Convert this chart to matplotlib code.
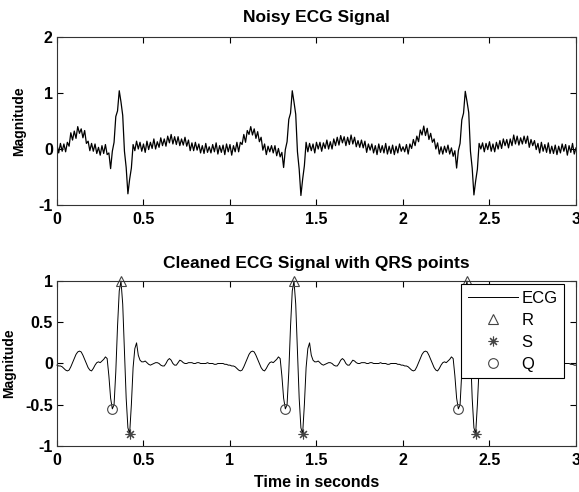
import numpy as np
import matplotlib.pyplot as plt

plt.rcParams['font.family'] = ['Liberation Sans', 'DejaVu Sans']

# time axis, 0.01 s steps from 0 to 3 s
time_s = np.round(np.arange(0, 301) * 0.01, 2)

# noisy ECG (one line per 0.1 s)
noisy_ecg = [
    # beat 1
    0.08, -0.07, 0.10, -0.04, 0.09, -0.05, 0.12, 0.05, 0.29, 0.16,
    0.32, 0.19, 0.40, 0.28, 0.36, 0.20, 0.33, 0.10, 0.14, -0.03,
    0.10, -0.04, 0.09, -0.08, 0.03, -0.11, 0.06, -0.08, 0.08, -0.10,
    -0.07, -0.35, -0.04, 0.12, 0.58, 0.68, 1.04, 0.84, 0.60, -0.04,
    -0.33, -0.80, -0.54, -0.34, 0.08, -0.03, 0.14, 0.00, 0.12, -0.04,
    0.09, -0.06, 0.14, -0.01, 0.12, 0.01, 0.18, 0.00, 0.13, 0.03,
    0.20, 0.06, 0.18, 0.05, 0.23, 0.11, 0.26, 0.09, 0.22, 0.08,
    0.22, 0.06, 0.18, 0.07, 0.21, 0.05, 0.16, -0.03, 0.11, -0.03,
    0.12, -0.02, 0.09, -0.07, 0.06, -0.08, 0.10, -0.06, 0.04, -0.07,
    0.08, -0.05, 0.11, -0.09, 0.06, -0.06, 0.07, -0.10, 0.09, -0.05,
    # beat 2
    0.08, -0.11, 0.06, -0.05, 0.12, -0.05, 0.12, 0.08, 0.26, 0.12,
    0.33, 0.26, 0.40, 0.25, 0.36, 0.19, 0.31, 0.13, 0.21, -0.02,
    0.09, -0.10, 0.05, -0.05, 0.06, -0.07, 0.06, -0.12, 0.01, -0.14,
    -0.06, -0.33, -0.01, 0.13, 0.53, 0.64, 1.04, 0.84, 0.62, -0.05,
    -0.36, -0.83, -0.54, -0.30, 0.12, -0.05, 0.10, -0.03, 0.09, -0.07,
    0.12, 0.00, 0.12, -0.04, 0.11, 0.01, 0.16, 0.00, 0.13, 0.00,
    0.18, 0.06, 0.21, 0.07, 0.24, 0.11, 0.22, 0.06, 0.21, 0.08,
    0.25, 0.09, 0.21, 0.04, 0.15, 0.03, 0.16, 0.02, 0.14, -0.06,
    0.09, -0.02, 0.09, -0.07, 0.06, -0.10, 0.09, -0.06, 0.06, -0.07,
    0.10, -0.09, 0.05, -0.08, 0.07, -0.10, 0.05, -0.07, 0.09, -0.04,
    # beat 3
    0.04, -0.05, 0.08, -0.09, 0.09, 0.01, 0.17, 0.06, 0.23, 0.13,
    0.34, 0.25, 0.41, 0.24, 0.37, 0.17, 0.28, 0.12, 0.18, 0.00,
    0.11, -0.09, 0.04, -0.09, 0.05, -0.06, 0.07, -0.09, 0.02, -0.13,
    -0.03, -0.34, -0.03, 0.10, 0.52, 0.64, 1.03, 0.85, 0.65, -0.04,
    -0.34, -0.82, -0.57, -0.36, 0.10, 0.00, 0.11, -0.05, 0.10, -0.01,
    0.13, -0.04, 0.09, -0.05, 0.12, 0.00, 0.15, 0.01, 0.18, 0.06,
    0.17, 0.02, 0.18, 0.06, 0.25, 0.09, 0.23, 0.07, 0.20, 0.09,
    0.23, 0.10, 0.23, 0.03, 0.17, 0.06, 0.15, -0.01, 0.10, -0.07,
    0.12, -0.04, 0.08, -0.06, 0.11, -0.08, 0.05, -0.08, 0.07, -0.10,
    0.05, -0.07, 0.09, -0.04, 0.08, -0.11, 0.06, -0.06, 0.10, -0.09,
    0.02,
]

# cleaned ECG
clean_ecg = [
    # beat 1
    -0.02, -0.03, -0.03, -0.04, -0.06, -0.08, -0.09, -0.08, -0.04, 0.01,
    0.06, 0.11, 0.14, 0.15, 0.14, 0.10, 0.05, 0.00, -0.05, -0.08,
    -0.09, -0.06, -0.02, 0.01, 0.02, 0.01, 0.03, 0.05, 0.08, 0.06,
    -0.15, -0.42, -0.55, -0.50, -0.10, 0.45, 0.88, 1.00, 0.72, 0.15,
    -0.42, -0.78, -0.85, -0.50, -0.05, 0.18, 0.25, 0.10, 0.04, 0.02,
    0.02, 0.03, 0.01, -0.01, -0.02, -0.01, 0.00, 0.01, 0.01, 0.00,
    -0.02, -0.03, -0.03, 0.00, 0.04, 0.06, 0.04, 0.00, -0.02, -0.02,
    0.01, 0.04, 0.03, 0.01, 0.00, 0.00, 0.01, 0.01, 0.01, 0.00,
    0.00, 0.01, 0.01, 0.00, 0.00, 0.00, 0.00, 0.01, 0.00, 0.00,
    0.00, -0.01, -0.01, 0.00, 0.00, 0.00, 0.00, -0.01, -0.01, -0.02,
    # beat 2
    -0.02, -0.03, -0.03, -0.04, -0.06, -0.08, -0.09, -0.08, -0.04, 0.01,
    0.06, 0.11, 0.14, 0.15, 0.14, 0.10, 0.05, 0.00, -0.05, -0.08,
    -0.09, -0.06, -0.02, 0.01, 0.02, 0.01, 0.03, 0.05, 0.08, 0.06,
    -0.15, -0.42, -0.55, -0.50, -0.10, 0.45, 0.88, 1.00, 0.72, 0.15,
    -0.42, -0.78, -0.85, -0.50, -0.05, 0.18, 0.25, 0.10, 0.04, 0.02,
    0.02, 0.03, 0.01, -0.01, -0.02, -0.01, 0.00, 0.01, 0.01, 0.00,
    -0.02, -0.03, -0.03, 0.00, 0.04, 0.06, 0.04, 0.00, -0.02, -0.02,
    0.01, 0.04, 0.03, 0.01, 0.00, 0.00, 0.01, 0.01, 0.01, 0.00,
    0.00, 0.01, 0.01, 0.00, 0.00, 0.00, 0.00, 0.01, 0.00, 0.00,
    0.00, -0.01, -0.01, 0.00, 0.00, 0.00, 0.00, -0.01, -0.01, -0.02,
    # beat 3
    -0.02, -0.03, -0.03, -0.04, -0.06, -0.08, -0.09, -0.08, -0.04, 0.01,
    0.06, 0.11, 0.14, 0.15, 0.14, 0.10, 0.05, 0.00, -0.05, -0.08,
    -0.09, -0.06, -0.02, 0.01, 0.02, 0.01, 0.03, 0.05, 0.08, 0.06,
    -0.15, -0.42, -0.55, -0.50, -0.10, 0.45, 0.88, 1.00, 0.72, 0.15,
    -0.42, -0.78, -0.85, -0.50, -0.05, 0.18, 0.25, 0.10, 0.04, 0.02,
    0.02, 0.03, 0.01, -0.01, -0.02, -0.01, 0.00, 0.01, 0.01, 0.00,
    -0.02, -0.03, -0.03, 0.00, 0.04, 0.06, 0.04, 0.00, -0.02, -0.02,
    0.01, 0.04, 0.03, 0.01, 0.00, 0.00, 0.01, 0.01, 0.01, 0.00,
    0.00, 0.01, 0.01, 0.00, 0.00, 0.00, 0.00, 0.01, 0.00, 0.00,
    0.00, -0.01, -0.01, 0.00, 0.00, 0.00, 0.00, -0.01, -0.01, -0.02,
    -0.02,
]

# detected QRS points
r_times = [0.37, 1.37, 2.37]
r_vals = [1.00, 1.00, 1.00]
s_times = [0.42, 1.42, 2.42]
s_vals = [-0.85, -0.85, -0.85]
q_times = [0.32, 1.32, 2.32]
q_vals = [-0.55, -0.55, -0.55]

x_ticks = [0, 0.5, 1, 1.5, 2, 2.5, 3]
x_ticklabels = ['0', '0.5', '1', '1.5', '2', '2.5', '3']

fig = plt.figure(figsize=(5.79, 4.92), dpi=100)
ax1 = fig.add_axes([0.0984, 0.5833, 0.8964, 0.3415])
ax2 = fig.add_axes([0.0984, 0.0935, 0.8964, 0.3354])


def style_axes(ax):
    ax.set_xlim(0, 3)
    ax.set_xticks(x_ticks)
    ax.set_xticklabels(x_ticklabels)
    ax.tick_params(direction='in', top=True, right=True, length=4, width=0.8,
                   labelsize=11.5)
    ax.tick_params(axis='x', pad=5)
    ax.tick_params(axis='y', pad=3)
    for lbl in ax.get_xticklabels() + ax.get_yticklabels():
        lbl.set_fontweight('bold')
    for sp in ax.spines.values():
        sp.set_linewidth(0.8)
        sp.set_color('#333333')


# Noisy signal
ax1.plot(time_s, noisy_ecg, color='black', linewidth=0.9)
ax1.set_ylim(-1, 2)
ax1.set_yticks([-1, 0, 1, 2])
ax1.set_yticklabels(['-1', '0', '1', '2'])
style_axes(ax1)
ax1.set_title('Noisy ECG Signal', fontsize=12.5, fontweight='bold', pad=11)
ax1.set_ylabel('Magnitude', fontsize=10, fontweight='bold')
ax1.yaxis.set_label_coords(-0.06, 0.5)

# Cleaned signal with QRS points
ax2.plot(time_s, clean_ecg, color='black', linewidth=0.7, label='ECG')
ax2.plot(r_times, r_vals, linestyle='none', marker='^', markersize=7,
         markerfacecolor='none', markeredgecolor='#444444', markeredgewidth=0.8, label='R')
ax2.plot(s_times, s_vals, linestyle='none', marker=(8, 2, 0), markersize=7,
         color='#444444', markeredgewidth=0.8, label='S')
ax2.plot(q_times, q_vals, linestyle='none', marker='o', markersize=7,
         markerfacecolor='none', markeredgecolor='#444444', markeredgewidth=0.8, label='Q')
ax2.set_ylim(-1, 1)
ax2.set_yticks([-1, -0.5, 0, 0.5, 1])
ax2.set_yticklabels(['-1', '-0.5', '0', '0.5', '1'])
style_axes(ax2)
ax2.set_title('Cleaned ECG Signal with QRS points', fontsize=12.5, fontweight='bold', pad=9)
ax2.set_ylabel('Magnitude', fontsize=10, fontweight='bold')
ax2.yaxis.set_label_coords(-0.079, 0.5)
ax2.set_xlabel('Time in seconds', fontsize=11.5, fontweight='bold', labelpad=5)
for ln in ax2.lines:
    ln.set_clip_on(False)

leg = ax2.legend(loc='upper right', bbox_to_anchor=(0.977, 0.982), borderaxespad=0,
                 fancybox=False, framealpha=1, edgecolor='black', fontsize=12,
                 handlelength=3.0, labelspacing=0.42, borderpad=0.4, handletextpad=0.2)
leg.get_frame().set_linewidth(0.8)

fig.savefig('out.png', dpi=100)
